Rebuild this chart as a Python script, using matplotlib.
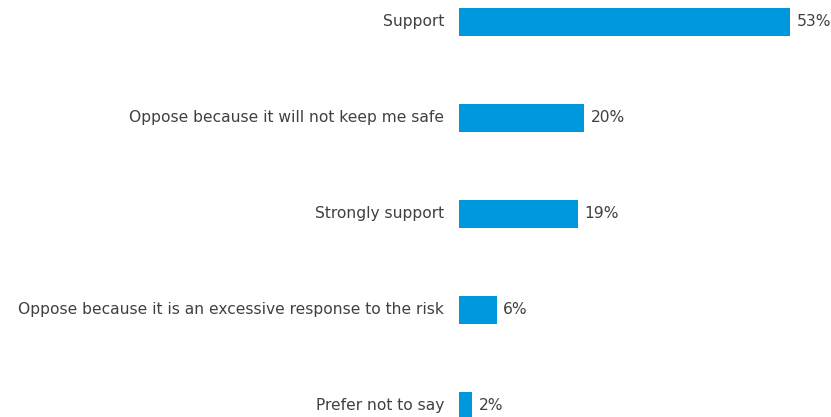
import matplotlib.pyplot as plt

# survey answers, top to bottom
answers = ["Support",
           "Oppose because it will not keep me safe",
           "Strongly support",
           "Oppose because it is an excessive response to the risk",
           "Prefer not to say"]
shares = [53, 20, 19, 6, 2]

bar_color = "#0098DD"
text_color = "#404040"

plt.rcParams["font.family"] = "DejaVu Sans"

fig = plt.figure(figsize=(8.31, 4.17), dpi=100)
ax = fig.add_axes([459 / 831, 0, 372 / 831, 1])

pos = list(range(len(answers)))
ax.barh(pos, shares, height=0.29, color=bar_color)

ax.set_xlim(0, 372 / 6.25)
ax.set_ylim(4.115, -0.229)

for p, a, v in zip(pos, answers, shares):
    ax.text(-2.4, p, a, ha="right", va="center", fontsize=11.2,
            color=text_color, clip_on=False)
    ax.text(v + 1.1, p, "%d%%" % v, ha="left", va="center", fontsize=11.2,
            color=text_color)

ax.axis("off")

fig.savefig("out.png", dpi=100)
